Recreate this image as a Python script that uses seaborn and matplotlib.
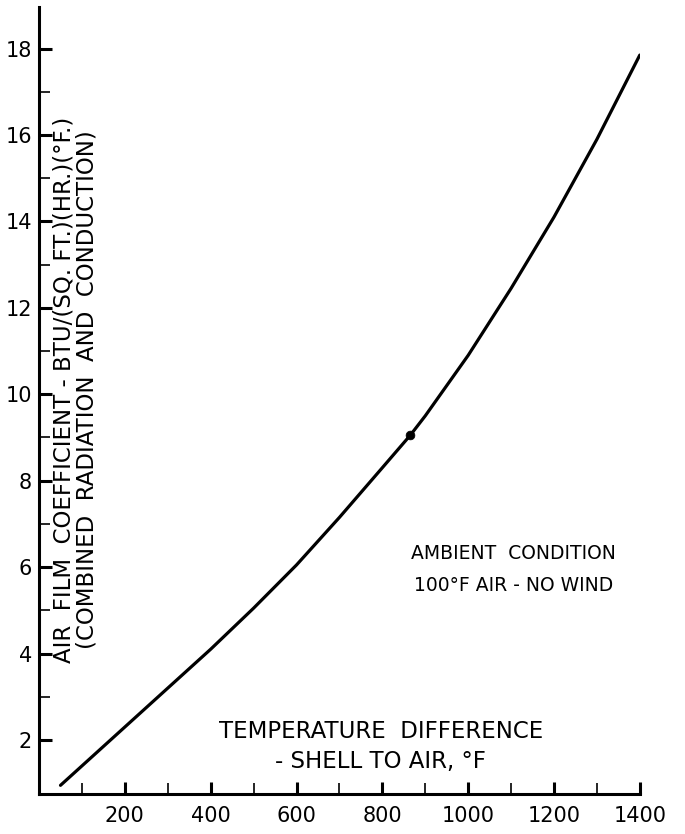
import numpy as np
import pandas as pd
from matplotlib import pyplot as plt
import seaborn as sns

# curve
temp_diff = [50, 100, 200, 300, 400, 500, 600, 700, 800, 865, 900, 1000, 1100, 1200, 1300, 1400]
film_coef = [0.95, 1.4, 2.3, 3.2, 4.1, 5.05, 6.05, 7.15, 8.3, 9.05, 9.5, 10.9, 12.45, 14.1, 15.9, 17.85]

dot_x = [865]
dot_y = [9.05]

x_major = [200, 400, 600, 800, 1000, 1200, 1400]
x_minor = [100, 300, 500, 700, 900, 1100, 1300]
y_major = [2, 4, 6, 8, 10, 12, 14, 16, 18]
y_minor = [3, 5, 7, 9, 11, 13, 15, 17]

df = pd.DataFrame({"dt": temp_diff, "h": film_coef})

sns.set_style("ticks")
plt.rcParams['font.family'] = ['DejaVu Sans']

fig = plt.figure(figsize=(6.85, 8.34), dpi=100)
ax = fig.add_axes([0.057, 0.048, 0.877, 0.944])

sns.lineplot(data=df, x="dt", y="h", ax=ax, color="black", linewidth=2.3)
sns.scatterplot(x=dot_x, y=dot_y, ax=ax, color="black", s=40, edgecolor="black", zorder=5)

ax.set_xlim(0, 1400)
ax.set_ylim(0.75, 18.97)
ax.set_xticks(x_major)
ax.set_xticks(x_minor, minor=True)
ax.set_yticks(y_major)
ax.set_yticks(y_minor, minor=True)
ax.set_xticklabels([str(v) for v in x_major], fontsize=15)
ax.set_yticklabels([str(v) for v in y_major], fontsize=15)
ax.tick_params(which="major", direction="in", length=9, width=2.2, color="black",
               labelcolor="black")
ax.tick_params(which="minor", direction="in", length=8, width=1.2, color="black")
ax.tick_params(axis="x", which="major", pad=9)
ax.tick_params(axis="y", which="major", pad=5)

sns.despine(ax=ax)
for s in ["left", "bottom"]:
    ax.spines[s].set_linewidth(2.2)
    ax.spines[s].set_color("black")

ax.set_xlabel("")
ax.set_ylabel("")

ax.text(0.06, 0.513,
        "AIR  FILM  COEFFICIENT - BTU/(SQ. FT.)(HR.)(°F.)\n(COMBINED  RADIATION  AND  CONDUCTION)",
        transform=ax.transAxes, rotation=90, ha="center", va="center",
        fontsize=16.5, linespacing=1.0, color="black")

ax.text(0.79, 0.285, "AMBIENT  CONDITION\n100°F AIR - NO WIND",
        transform=ax.transAxes, ha="center", va="center", fontsize=13.5,
        linespacing=1.9, color="black")

ax.text(0.569, 0.06, "TEMPERATURE  DIFFERENCE\n- SHELL TO AIR, °F",
        transform=ax.transAxes, ha="center", va="center", fontsize=16.5,
        linespacing=1.4, color="black")

fig.savefig("out.png", dpi=100)
